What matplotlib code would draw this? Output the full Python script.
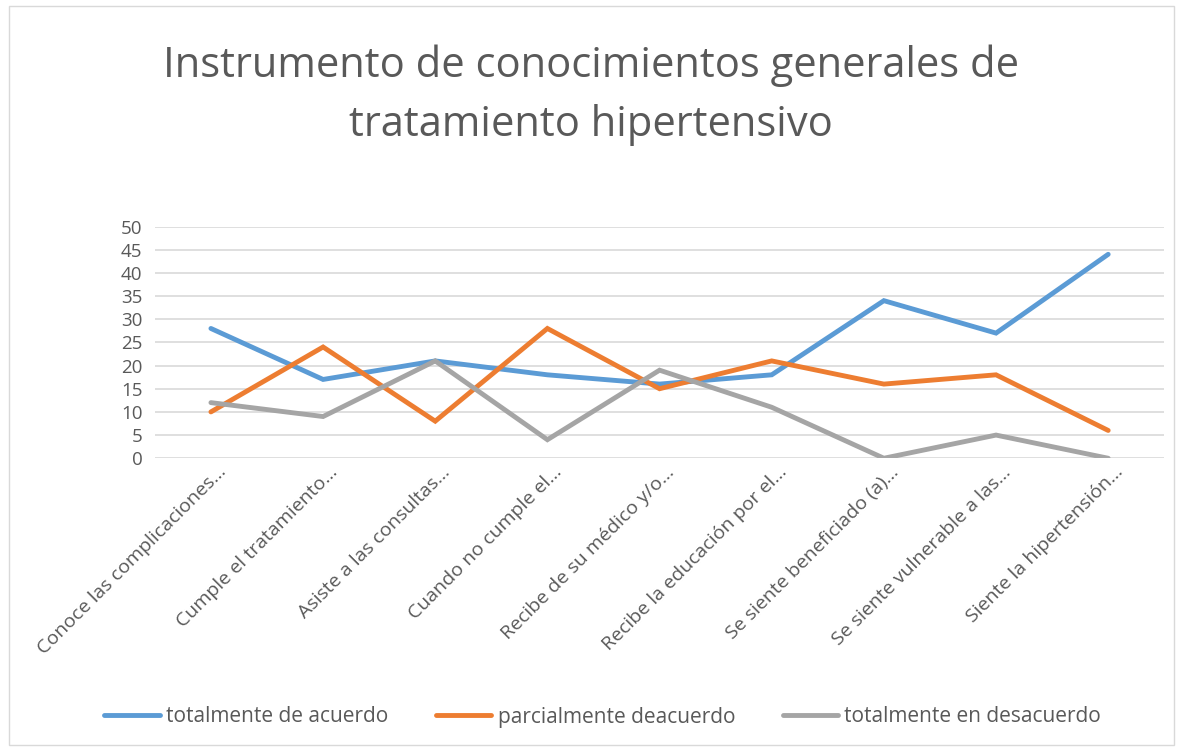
import matplotlib.pyplot as plt
from matplotlib.patches import Rectangle
from matplotlib.transforms import ScaledTranslation

plt.rcParams['font.family'] = ['Open Sans', 'DejaVu Sans']

categorias = ['Conoce las complicaciones…', 'Cumple el tratamiento…',
              'Asiste a las consultas…', 'Cuando no cumple el…',
              'Recibe de su médico y/o…', 'Recibe la educación por el…',
              'Se siente beneficiado (a)…', 'Se siente vulnerable a las…',
              'Siente la hipertensión…']
totalmente_acuerdo = [28, 17, 21, 18, 16, 18, 34, 27, 44]
parcialmente_acuerdo = [10, 24, 8, 28, 15, 21, 16, 18, 6]
totalmente_desacuerdo = [12, 9, 21, 4, 19, 11, 0, 5, 0]
series_nombres = ['totalmente de acuerdo', 'parcialmente deacuerdo',
                  'totalmente en desacuerdo']
colores = ['#5B9BD5', '#ED7D31', '#A5A5A5']
y_ticks = [0, 5, 10, 15, 20, 25, 30, 35, 40, 45, 50]

gris_texto = '#595959'

fig = plt.figure(figsize=(11.82, 7.5), dpi=100)
ax = fig.add_axes([0.131, 0.389, 0.854, 0.309])

x = range(len(categorias))
for valores, nombre, color in zip(
        [totalmente_acuerdo, parcialmente_acuerdo, totalmente_desacuerdo],
        series_nombres, colores):
    ax.plot(x, valores, color=color, linewidth=3.5, label=nombre,
            solid_capstyle='round', solid_joinstyle='miter')

ax.set_xlim(-0.5, len(categorias) - 0.5)
ax.set_ylim(0, 50)
ax.set_yticks(y_ticks)
ax.set_xticks(list(x))
ax.set_xticklabels(categorias, rotation=45, ha='right', va='center',
                   rotation_mode='anchor', fontsize=14, color=gris_texto)
ax.tick_params(axis='y', labelsize=13.5, labelcolor=gris_texto, length=0, pad=9)
ax.tick_params(axis='x', length=0, pad=8)
# desplazar un poco las etiquetas a la derecha como en Excel
desp = ScaledTranslation(12 / 100, 0, fig.dpi_scale_trans)
for lbl in ax.get_xticklabels():
    lbl.set_transform(lbl.get_transform() + desp)
ax.grid(axis='y', color='#D9D9D9', linewidth=1.2)
ax.set_axisbelow(True)
for s in ax.spines.values():
    s.set_visible(False)

fig.text(0.5, 0.873, 'Instrumento de conocimientos generales de\ntratamiento hipertensivo',
         ha='center', va='center', fontsize=30, color=gris_texto, linespacing=1.55)

fig.legend(loc='center', bbox_to_anchor=(0.51, 0.044), ncol=3, frameon=False,
           fontsize=15, handlelength=2.65, handletextpad=0.3, columnspacing=2.3,
           labelcolor=gris_texto)

fig.patches.append(Rectangle((0.008, 0.007), 0.985, 0.985, transform=fig.transFigure,
                             fill=False, edgecolor='#D9D9D9', linewidth=1))

fig.savefig('out.png', dpi=100)
